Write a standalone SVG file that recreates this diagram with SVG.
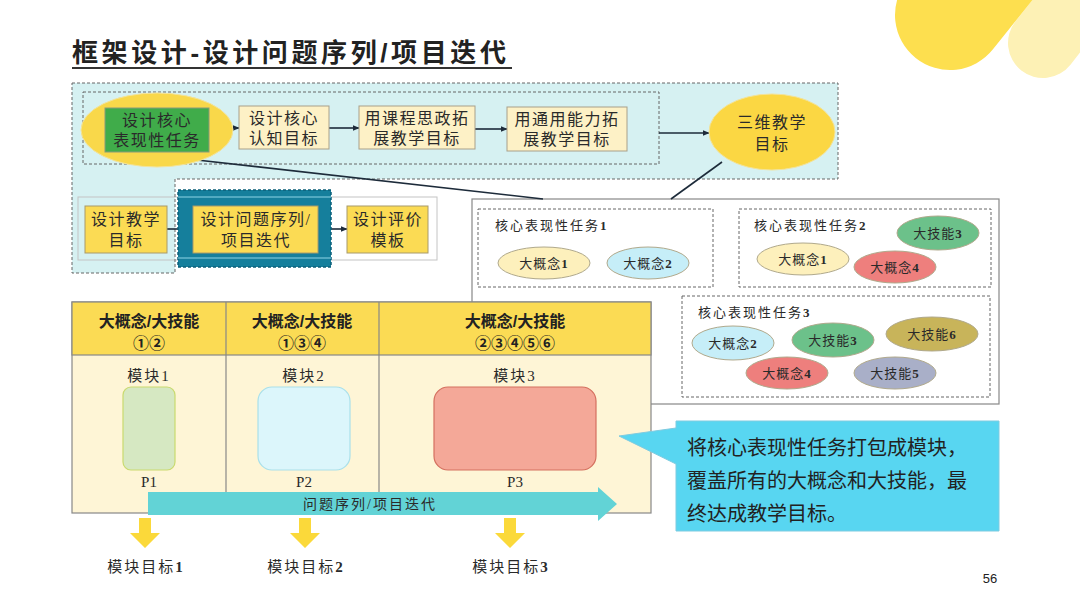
<svg xmlns="http://www.w3.org/2000/svg" width="1080" height="608" viewBox="0 0 1080 608">
<defs>
<style>
.serif{font-family:"Liberation Serif","Noto Sans CJK SC",serif;fill:#2a2a2a}
.sans{font-family:"Liberation Sans","Noto Sans CJK SC",sans-serif;fill:#222}
.bx{font-size:16px;text-anchor:middle;letter-spacing:1.5px}
.ell{font-size:13px;text-anchor:middle;letter-spacing:1px}
.lab{letter-spacing:2px}
.dash{fill:none;stroke:#666;stroke-width:1;stroke-dasharray:3,2}
.conn{stroke:#1d2b3a;stroke-width:1.6;fill:none}
.ybox{fill:#fbdb54;stroke:#a89a6a;stroke-width:1}
.lbox{fill:#fdf1c6;stroke:#a8a08a;stroke-width:1}
.oval{stroke:#b0a98c;stroke-width:1}
.hdr{font-size:16px;font-weight:bold;text-anchor:middle}
.mid{text-anchor:middle}
</style>
<marker id="ah" viewBox="0 0 10 10" refX="9" refY="5" markerWidth="7" markerHeight="7" orient="auto" markerUnits="userSpaceOnUse">
<path d="M0,1 L10,5 L0,9 z" fill="#1d2b3a"/>
</marker>
</defs>
<rect width="1080" height="608" fill="#ffffff"/>

<!-- decoration -->
<g id="decor">
<line x1="1043" y1="43" x2="1140" y2="-80" stroke="#fdf1b5" stroke-width="70" stroke-linecap="round"/>
<line x1="950" y1="15" x2="1050" y2="-110" stroke="#fddf4f" stroke-width="110" stroke-linecap="round"/>
</g>

<!-- title -->
<g id="title">
<text x="72" y="62" class="sans" font-size="26" font-weight="bold" fill="#222" letter-spacing="3.6">框架设计-设计问题序列/项目迭代</text>
<line x1="72" y1="68" x2="512" y2="68" stroke="#333" stroke-width="2"/>
</g>

<!-- cyan region -->
<g id="region">
<path d="M72,83 H838 V179 H175 V273 H72 Z" fill="#d6f1f2"/>
<rect x="175" y="197" width="262" height="63" fill="#ffffff"/>
<rect x="78" y="197" width="359" height="63" fill="none" stroke="#c4c4c4" stroke-width="1"/>
<path d="M72,83 H838 V179 H175 V273 H72 Z" class="dash"/>
<rect x="83" y="92" width="576" height="72" class="dash"/>
</g>

<!-- white box of core tasks -->
<g id="tasks">
<rect x="472" y="199" width="527" height="205" fill="#ffffff" stroke="#888" stroke-width="1.2"/>
<rect x="478" y="209" width="235" height="78" class="dash"/>
<rect x="739" y="209" width="252" height="78" class="dash"/>
<rect x="682" y="296" width="308" height="101" class="dash"/>
<text x="495" y="230" class="serif lab" font-size="13">核心表现性任务<tspan font-weight="bold">1</tspan></text>
<text x="754" y="230" class="serif lab" font-size="13">核心表现性任务<tspan font-weight="bold">2</tspan></text>
<text x="698" y="317" class="serif lab" font-size="13">核心表现性任务<tspan font-weight="bold">3</tspan></text>
</g>

<g id="t1c1"><ellipse cx="544" cy="263" rx="46" ry="16" fill="#fdf0bc" class="oval"/><text x="544" y="268" class="serif ell">大概念<tspan font-weight="bold">1</tspan></text></g>
<g id="t1c2"><ellipse cx="648" cy="263" rx="41" ry="16" fill="#c6eef8" class="oval"/><text x="648" y="268" class="serif ell">大概念<tspan font-weight="bold">2</tspan></text></g>
<g id="t2c1"><ellipse cx="803" cy="259" rx="46" ry="16" fill="#fdf0bc" class="oval"/><text x="803" y="264" class="serif ell">大概念<tspan font-weight="bold">1</tspan></text></g>
<g id="t2s3"><ellipse cx="938" cy="233" rx="41" ry="17" fill="#6cc18a" class="oval"/><text x="938" y="238" class="serif ell">大技能<tspan font-weight="bold">3</tspan></text></g>
<g id="t2c4"><ellipse cx="895" cy="267" rx="41" ry="16" fill="#ee7f7d" class="oval"/><text x="895" y="272" class="serif ell">大概念<tspan font-weight="bold">4</tspan></text></g>
<g id="t3c2"><ellipse cx="733" cy="343" rx="41" ry="17" fill="#c6eef8" class="oval"/><text x="733" y="348" class="serif ell">大概念<tspan font-weight="bold">2</tspan></text></g>
<g id="t3s3"><ellipse cx="833" cy="340" rx="41" ry="17" fill="#6cc18a" class="oval"/><text x="833" y="345" class="serif ell">大技能<tspan font-weight="bold">3</tspan></text></g>
<g id="t3s6"><ellipse cx="932" cy="334" rx="46" ry="17" fill="#c8b45a" class="oval"/><text x="932" y="339" class="serif ell">大技能<tspan font-weight="bold">6</tspan></text></g>
<g id="t3c4"><ellipse cx="787" cy="373" rx="41" ry="16" fill="#ee7f7d" class="oval"/><text x="787" y="378" class="serif ell">大概念<tspan font-weight="bold">4</tspan></text></g>
<g id="t3s5"><ellipse cx="895" cy="373" rx="41" ry="16" fill="#a9afc8" class="oval"/><text x="895" y="378" class="serif ell">大技能<tspan font-weight="bold">5</tspan></text></g>

<!-- connectors -->
<g id="connectors">
<line x1="197" y1="160" x2="543" y2="199" class="conn"/>
<line x1="722" y1="162" x2="671" y2="199" class="conn"/>
<line x1="209" y1="128" x2="239" y2="128" class="conn" marker-end="url(#ah)"/>
<line x1="329" y1="128" x2="359" y2="128" class="conn" marker-end="url(#ah)"/>
<line x1="475" y1="129" x2="507" y2="129" class="conn" marker-end="url(#ah)"/>
<line x1="659" y1="133" x2="709" y2="133" class="conn" marker-end="url(#ah)"/>
<line x1="167" y1="229" x2="193" y2="229" class="conn" marker-end="url(#ah)"/>
<line x1="318" y1="229" x2="347" y2="229" class="conn" marker-end="url(#ah)"/>
</g>

<!-- top row nodes -->
<g id="coreTask">
<ellipse cx="157" cy="130" rx="76" ry="37" fill="#f9d84a" stroke="#f3e39a" stroke-width="1"/>
<rect x="105" y="108" width="104" height="44" fill="#40ac4a" stroke="#8a9a7a" stroke-width="1"/>
<text x="157" y="126" class="serif bx">设计核心</text>
<text x="157" y="146" class="serif bx">表现性任务</text>
</g>
<g id="cognitive">
<rect x="239" y="106" width="90" height="43" class="lbox"/>
<text x="284" y="124" class="serif bx">设计核心</text>
<text x="284" y="144" class="serif bx">认知目标</text>
</g>
<g id="ideology">
<rect x="359" y="106" width="116" height="43" class="lbox"/>
<text x="417" y="124" class="serif bx">用课程思政拓</text>
<text x="417" y="144" class="serif bx">展教学目标</text>
</g>
<g id="general">
<rect x="507" y="107" width="120" height="44" class="lbox"/>
<text x="567" y="125" class="serif bx">用通用能力拓</text>
<text x="567" y="145" class="serif bx">展教学目标</text>
</g>
<g id="threeD">
<ellipse cx="772" cy="132" rx="63" ry="38" fill="#fbd743" stroke="#f3e39a" stroke-width="1"/>
<text x="772" y="128" class="serif bx" font-size="17">三维教学</text>
<text x="772" y="150" class="serif bx" font-size="17">目标</text>
</g>

<!-- second row nodes -->
<g id="teachGoal">
<rect x="85" y="206" width="82" height="47" class="ybox"/>
<text x="126" y="225" class="serif bx">设计教学</text>
<text x="126" y="246" class="serif bx">目标</text>
</g>
<g id="problemSeq">
<rect x="178" y="190" width="153" height="77" fill="#157f9c" stroke="#0d5f78" stroke-width="1.5" stroke-dasharray="3,2"/>
<line x1="178" y1="197" x2="331" y2="197" stroke="#8fd6e6" stroke-width="1"/>
<line x1="178" y1="258" x2="331" y2="258" stroke="#8fd6e6" stroke-width="1"/>
<rect x="193" y="206" width="125" height="47" class="ybox"/>
<text x="256" y="225" class="serif bx">设计问题序列/</text>
<text x="256" y="246" class="serif bx">项目迭代</text>
</g>
<g id="evalTpl">
<rect x="347" y="206" width="81" height="47" class="ybox"/>
<text x="388" y="225" class="serif bx">设计评价</text>
<text x="388" y="246" class="serif bx">模板</text>
</g>

<!-- module table -->
<g id="table">
<rect x="72" y="302" width="579" height="211" fill="#fef5d6" stroke="#888" stroke-width="1.2"/>
<rect x="72" y="302" width="579" height="53" fill="#fbdb54" stroke="#888" stroke-width="1.2"/>
<line x1="226" y1="302" x2="226" y2="513" stroke="#888" stroke-width="1.2"/>
<line x1="379" y1="302" x2="379" y2="513" stroke="#888" stroke-width="1.2"/>
<text x="149" y="327" class="sans hdr">大概念/大技能</text>
<text x="149" y="349" class="sans hdr" font-weight="normal">①②</text>
<text x="302" y="327" class="sans hdr">大概念/大技能</text>
<text x="302" y="349" class="sans hdr" font-weight="normal">①③④</text>
<text x="515" y="327" class="sans hdr">大概念/大技能</text>
<text x="515" y="349" class="sans hdr" font-weight="normal">②③④⑤⑥</text>
</g>
<g id="module1">
<text x="149" y="381" class="serif mid lab" font-size="15">模块1</text>
<rect x="123" y="387" width="52" height="83" rx="8" fill="#d6e8c2" stroke="#c9da6e" stroke-width="1.2"/>
<text x="149" y="487" class="serif mid" font-size="15">P1</text>
</g>
<g id="module2">
<text x="304" y="381" class="serif mid lab" font-size="15">模块2</text>
<rect x="258" y="387" width="92" height="83" rx="14" fill="#dcf6fb" stroke="#a9e0ea" stroke-width="1.2"/>
<text x="304" y="487" class="serif mid" font-size="15">P2</text>
</g>
<g id="module3">
<text x="515" y="381" class="serif mid lab" font-size="15">模块3</text>
<rect x="434" y="387" width="162" height="83" rx="14" fill="#f4a898" stroke="#d4705f" stroke-width="1.2"/>
<text x="515" y="487" class="serif mid" font-size="15">P3</text>
</g>
<g id="iterArrow">
<path d="M148,492 H598 V487 L617,504 L598,521 V515 H148 Z" fill="#62d3d6"/>
<text x="370" y="509" class="serif mid lab" font-size="14">问题序列/项目迭代</text>
</g>

<!-- module goals -->
<g id="goal1">
<path d="M139,518 H151 V533 H160 L145,548 L130,533 H139 Z" fill="#fbd93a"/>
<text x="146" y="572" class="serif mid lab" font-size="15">模块目标<tspan font-weight="bold">1</tspan></text>
</g>
<g id="goal2">
<path d="M299,518 H311 V533 H320 L305,548 L290,533 H299 Z" fill="#fbd93a"/>
<text x="306" y="572" class="serif mid lab" font-size="15">模块目标<tspan font-weight="bold">2</tspan></text>
</g>
<g id="goal3">
<path d="M504,518 H516 V533 H525 L510,548 L495,533 H504 Z" fill="#fbd93a"/>
<text x="511" y="572" class="serif mid lab" font-size="15">模块目标<tspan font-weight="bold">3</tspan></text>
</g>

<!-- callout -->
<g id="callout">
<path d="M676,421 H999 V531 H676 V464 L619,436 L676,428 Z" fill="#58d6f1" stroke="#7fcbe0" stroke-width="1"/>
<text x="687" y="455" class="sans" font-size="20" fill="#333">将核心表现性任务打包成模块，</text>
<text x="687" y="488" class="sans" font-size="20" fill="#333">覆盖所有的大概念和大技能，最</text>
<text x="687" y="521" class="sans" font-size="20" fill="#333">终达成教学目标。</text>
</g>

<text x="990" y="583" class="sans" font-size="13" fill="#444" text-anchor="middle">56</text>
</svg>
